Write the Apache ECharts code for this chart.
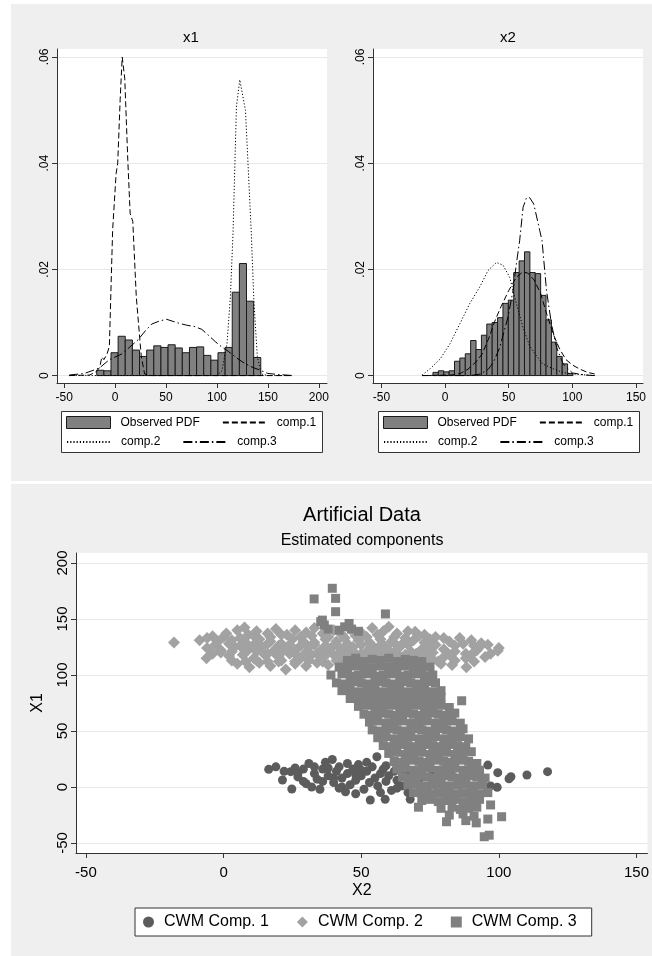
<!DOCTYPE html>
<html>
<head>
<meta charset="UTF-8">
<title>CWM components</title>
<script src="https://cdn.jsdelivr.net/npm/echarts@6/dist/echarts.min.js"></script>
<style>
  html, body { margin: 0; padding: 0; background: #fff; }
  #main { width: 652px; height: 956px; }
</style>
</head>
<body>
<div id="main"></div>
<script>
// ---- histogram x1 (bins of width 7) ----
var x1Bin = 7;
var x1Lo = [-18, -11, -4, 3, 10, 17, 24, 31, 38, 45, 52, 59, 66, 73, 80, 87, 94, 101, 108, 115, 122, 129, 136];
var x1Dens = [0.0010, 0.0009, 0.0043, 0.0074, 0.0067, 0.0048, 0.0036, 0.0048, 0.0056, 0.0053, 0.0058, 0.0052,
              0.0043, 0.0053, 0.0054, 0.0038, 0.0029, 0.0043, 0.0053, 0.0157, 0.0211, 0.0140, 0.0034];
var x1Comp1 = [[-45, 0], [-25, 0.0001], [-18, 0.0008], [-15, 0.0016], [-13, 0.0035], [-11, 0.0030], [-8, 0.0040],
               [-5.6, 0.0055], [-2.4, 0.0274], [1, 0.038], [2.6, 0.040], [5, 0.052], [7, 0.0600], [8, 0.0600],
               [9.5, 0.056], [12.5, 0.0405], [14.8, 0.0305], [17.4, 0.029], [20.8, 0.0149], [25.7, 0.0036],
               [29, 0.0003], [35, 0], [175, 0]];
var x1Comp2 = [[-45, 0], [100, 0], [101.8, 0.0001], [104.9, 0.0009], [109.9, 0.0061], [113.2, 0.0149],
               [115.8, 0.0270], [119.1, 0.0506], [122.4, 0.0557], [128, 0.0499], [133.7, 0.0268],
               [136.2, 0.0142], [139.6, 0.0036], [143.5, 0.0003], [150, 0], [175, 0]];
var x1Comp3 = [[-45, 0.0001], [-30, 0.0004], [-15.5, 0.0014], [-5.6, 0.0030], [5.9, 0.0040], [14, 0.0053],
               [22.4, 0.0067], [30, 0.0085], [36, 0.0097], [43.9, 0.0103], [50.5, 0.0106], [57, 0.0102],
               [63.7, 0.0098], [70, 0.0095], [78.5, 0.0092], [85.1, 0.0087], [91, 0.0077], [98.3, 0.0064],
               [104, 0.0055], [111.5, 0.0045], [118, 0.0035], [124.7, 0.0026], [133, 0.0017], [141.2, 0.0011],
               [150, 0.0004], [160, 0.0002], [175, 0]];

// ---- histogram x2 (bins of width 4.23) ----
var x2Bin = 4.23;
var x2Lo = [-9.5, -5.27, -1.04, 3.19, 7.42, 11.65, 15.88, 20.11, 24.34, 28.57, 32.8, 37.03, 41.26, 45.49,
            49.72, 53.95, 58.18, 62.41, 66.64, 70.87, 75.1, 79.33, 83.56, 87.79, 92.02, 96.25];
var x2Dens = [0.0006, 0.0009, 0.0007, 0.0009, 0.0027, 0.0033, 0.0041, 0.0066, 0.0049, 0.0076, 0.0097, 0.0100,
              0.0109, 0.0136, 0.0142, 0.0194, 0.0216, 0.0233, 0.0194, 0.0192, 0.0151, 0.0105, 0.0063, 0.0036,
              0.0022, 0.0004];
var x2Comp1 = [[-18, 0], [5, 0.0001], [12, 0.0004], [18, 0.0012], [24, 0.0025], [29, 0.0040], [34, 0.0068],
               [39, 0.0102], [44, 0.0130], [50, 0.0160], [56, 0.0185], [61, 0.0195], [65, 0.0193], [70, 0.0180],
               [75, 0.0155], [80, 0.0115], [85, 0.0078], [90, 0.0050], [95, 0.0030], [100, 0.0020],
               [106, 0.0012], [112, 0.0006], [117.5, 0.0003]];
var x2Comp2 = [[-18, 0.0001], [-11.7, 0.0013], [-3.9, 0.0031], [3.9, 0.0060], [11.7, 0.0098], [19.5, 0.0136],
               [27.3, 0.0167], [33.8, 0.0198], [40.4, 0.0213], [45.5, 0.0208], [50.8, 0.0185], [56, 0.0136],
               [61.2, 0.0091], [66.4, 0.0056], [71.6, 0.0038], [76.8, 0.0022], [84.6, 0.0013], [92.4, 0.0006],
               [100, 0.0003], [117.5, 0]];
var x2Comp3 = [[-18, 0], [20, 0], [28, 0.0003], [34, 0.0012], [38, 0.0025], [43, 0.0053], [49.4, 0.0110],
               [53.4, 0.0160], [56, 0.0210], [58.6, 0.0254], [61.3, 0.0317], [64, 0.0335], [66.5, 0.0335],
               [69.7, 0.0323], [74.4, 0.0273], [76.2, 0.0254], [79.7, 0.0160], [83.6, 0.0097], [87.6, 0.0053],
               [92.8, 0.0022], [100, 0.0005], [110, 0.0001], [117.5, 0]];

// ---- scatter: [X2, X1] ----
var cwm1 = [[16.4, 15.8], [19, 18], [21.4, 6.3], [24.4, 13.7], [24.8, -1.8], [27, 9], [29, 16], [31, 21], [30, 3],
            [33, 12], [34, 7], [36, 16], [35, -2], [37, 22], [38, 10], [39.5, 24.6], [40, 4], [41, 14], [42, 18],
            [43, 8], [44.3, -4.2], [45, 12], [46, 2], [47, 16], [48, 6], [49, 20], [50, 10], [51, -2], [52, 14],
            [53, 4], [53.3, -11.6], [54, 18], [55, 8], [55.7, 27], [56, 1], [57, 12], [58, 16], [58.7, -11], [59, 5],
            [60, 10], [61, -3], [62, 14], [63, 6], [64, 18], [65, 1], [66, 11], [67, -5], [67.8, -11], [68, 7],
            [70, 14], [71, 2], [72, 9], [74, -4], [76, 12], [78, 5], [80, -2], [83, 10], [85, 3], [88, 8], [90, -1],
            [92.6, 11], [94, 5], [96, 19.6], [97, 1], [99.6, 12.8], [99.4, -0.3], [103.7, 7.4], [104.4, 9.2],
            [110.2, 10.7], [117.7, 13.7], [32, 0], [38, 17], [43, 0], [50, 15], [45, 21], [27, 12], [40, 8],
            [48, 11], [36, 5], [33, 18], [29, 5], [22, 14], [26, 17], [59, 19], [63, -1], [52, 22], [48, -6],
            [42, -1], [57, -5], [62, 22]];
var cwm2 = [[1, 137], [-4, 134.6], [5, 140], [9, 136], [7.6, 142.4], [12, 139], [16, 137], [19, 141], [23, 136],
            [26, 140], [30, 138], [33, 142], [36, 137], [40, 140], [43, 136], [46, 141], [50, 138], [54, 142],
            [58, 139], [60, 143], [63, 137], [67, 139], [69.6, 138.7], [73, 136], [77, 134], [80, 133], [85.8, 133],
            [90, 131], [93.6, 128.3],
            [-18, 129], [-8.7, 131], [-2, 130], [3, 131], [8, 129], [13, 132], [17, 130], [21, 128], [25, 132],
            [29, 130], [33, 129], [37, 132], [41, 130], [45, 128], [49, 131], [53, 129], [57, 132], [61, 130],
            [65, 128], [69, 131], [73, 129], [77, 127], [82, 130], [87, 128], [91, 126], [96, 127], [100, 124],
            [99.6, 121.7],
            [-6, 124], [-1, 122], [4, 125], [9, 123], [14, 125], [18, 121], [22, 124], [26, 122], [31, 125],
            [35, 121], [39, 124], [43, 122], [47, 125], [52, 121], [56, 124], [60, 122], [64, 125], [68, 121],
            [72, 123], [76, 120], [80, 123], [84, 121], [88, 119], [92, 122], [97, 119], [95, 116],
            [-6.2, 114.9], [-4, 119], [2, 117], [7, 118], [11, 115], [15, 118], [20, 116], [24, 119], [28, 115],
            [32, 118], [36, 115], [40, 118], [44, 116], [48, 119], [52, 115], [56, 117], [60, 114], [64, 117],
            [68, 115], [72, 117], [76, 114], [80, 116], [84, 113], [88, 115], [91, 112], [88.2, 107],
            [5, 110], [9.4, 107], [13, 111], [17, 108], [20, 112], [22.6, 105], [26, 110], [30, 108], [34, 111],
            [38, 109], [42, 112], [46, 108], [50, 110], [54, 107], [58, 111], [62, 109], [66, 112], [70, 110],
            [74, 112], [79, 110], [83, 109],
            [-6, 133], [0, 134], [6, 133], [11, 135], [17, 134], [21, 136], [28, 134], [32, 135], [38, 134],
            [44, 133], [48, 135], [52, 134], [56, 136], [62, 134], [66, 133], [71, 135], [75, 132],
            [-3, 127], [2, 128], [6, 126], [11, 127], [16, 128], [20, 126], [24, 127], [28, 126], [33, 127],
            [37, 126], [41, 127], [45, 126], [50, 127], [54, 126], [58, 127], [63, 126], [67, 127], [75, 124],
            [84, 126], [93, 125],
            [-1, 120], [3, 121], [8, 120], [12, 121], [16, 119], [21, 120], [26, 119], [30, 120], [34, 119],
            [38, 120], [42, 119], [46, 120], [50, 119], [54, 120], [58, 119], [62, 120], [66, 118], [70, 119],
            [74, 118], [82, 118], [90, 118],
            [3, 113], [8, 112], [12, 113], [16, 112], [21, 113], [26, 112], [31, 113], [36, 112], [41, 113],
            [46, 114], [54, 112], [62, 113], [70, 113], [78, 112]];
var cwm3 = [[32.9, 167.9], [39.5, 177.4], [40.7, 168.4], [40.7, 156.5], [35.9, 149], [35.3, 147.6], [36.6, 144.6],
            [45.6, 146], [46.5, 141], [58.8, 154.5], [42, 140], [38, 141], [49, 139], [44, 143],
            [45, 113], [48, 115], [51, 112], [54, 114], [57, 113], [60, 115], [63, 112], [66, 114], [69, 113], [72, 112],
            [42, 107], [45, 106], [48, 108], [51, 107], [54, 106], [57, 108], [60, 107], [63, 106], [66, 108],
            [69, 107], [72, 106], [75, 107],
            [39, 100], [43, 101], [46, 99], [49, 100], [52, 101], [55, 99], [58, 100], [61, 101], [64, 99],
            [67, 100], [70, 101], [73, 99], [76, 100],
            [41, 93], [44, 92], [47, 94], [50, 93], [53, 92], [56, 94], [59, 93], [62, 92], [65, 94], [68, 93],
            [71, 92], [74, 94], [77, 93],
            [43, 86], [46, 87], [49, 85], [52, 86], [55, 87], [58, 85], [61, 86], [64, 87], [67, 85], [70, 86],
            [73, 87], [76, 85], [79, 86],
            [46, 79], [49, 78], [52, 80], [55, 79], [58, 78], [61, 80], [64, 79], [67, 78], [70, 80], [73, 79],
            [76, 78], [79, 80], [86.5, 77],
            [49, 72], [52, 73], [55, 71], [58, 72], [61, 73], [64, 71], [67, 72], [70, 73], [73, 71], [76, 72],
            [79, 73], [82, 71],
            [51, 65], [54, 64], [57, 66], [60, 65], [63, 64], [66, 66], [69, 65], [72, 64], [75, 66], [78, 65],
            [81, 64], [84, 66],
            [53, 58], [56, 59], [59, 57], [62, 58], [65, 59], [68, 57], [71, 58], [74, 59], [77, 57], [80, 58],
            [83, 59], [86, 57],
            [54, 51], [57, 50], [60, 52], [63, 51], [66, 50], [69, 52], [72, 51], [75, 50], [78, 52], [81, 51],
            [84, 50], [87, 52],
            [56, 44], [59, 45], [62, 43], [65, 44], [68, 45], [71, 43], [74, 44], [77, 45], [80, 43], [83, 44],
            [86, 45], [89, 43],
            [58, 37], [61, 36], [64, 38], [67, 37], [70, 36], [73, 38], [76, 37], [79, 36], [82, 38], [85, 37],
            [88, 36], [90, 31.5],
            [60, 30], [63, 31], [66, 29], [69, 30], [72, 31], [75, 29], [78, 30], [81, 31], [84, 29], [87, 30],
            [62, 23], [65, 22], [68, 24], [71, 23], [74, 22], [77, 24], [80, 23], [83, 22], [86, 24], [89, 23],
            [92, 21],
            [63, 16], [66, 17], [69, 15], [72, 16], [75, 17], [78, 15], [81, 16], [84, 17], [87, 15], [90, 16],
            [93, 15],
            [65, 9], [68, 8], [71, 10], [74, 9], [77, 8], [80, 10], [83, 9], [86, 8], [89, 10], [92, 9], [95, 8],
            [67, 2], [70, 3], [73, 1], [76, 2], [79, 3], [82, 1], [85, 2], [88, 3], [91, 1], [94, 2],
            [69, -5], [72, -4], [75, -6], [78, -5], [81, -4], [84, -6], [87, -5], [90, -4], [93, -6], [96, -5],
            [72, -12], [75, -11], [78, -13], [81, -12], [84, -11], [87, -13], [90, -12], [93, -11], [97, -16],
            [70.8, -18], [79, -19], [83, -18], [86, -20], [89, -19], [92, -18],
            [82, -25], [87, -24], [91, -26], [96, -28.6], [101, -26.5],
            [81, -31], [88, -30], [91.8, -32], [94.7, -44.4], [96.5, -43]];

function bins(lo, dens, w) {
  return lo.map(function (v, i) { return [v, v + w, dens[i]]; });
}
function renderBin(params, api) {
  var a = api.coord([api.value(0), 0]);
  var b = api.coord([api.value(1), api.value(2)]);
  return {
    type: 'rect',
    shape: { x: a[0], y: b[1], width: b[0] - a[0], height: a[1] - b[1] },
    style: { fill: '#808080', stroke: '#1a1a1a', lineWidth: 1 }
  };
}
function densLabel(v) {
  return v === 0 ? '0' : v.toFixed(2).replace(/^0/, '');
}

var font = "'Liberation Sans', Arial, sans-serif";
var axisLine = { onZero: false, lineStyle: { color: '#333', width: 1 } };
var tick = { length: 5, lineStyle: { color: '#333' } };
var grid = { lineStyle: { color: '#e8e8e8', width: 1 } };

function histX(idx, min, max, ticks) {
  return {
    type: 'value', gridIndex: idx, min: min, max: max,
    axisLine: axisLine, splitLine: { show: false },
    axisTick: Object.assign({ customValues: ticks }, tick),
    axisLabel: { customValues: ticks, fontSize: 12, color: '#000', margin: 9 }
  };
}
function histY(idx) {
  var t = [0, 0.02, 0.04, 0.06];
  return {
    type: 'value', gridIndex: idx, min: -0.0014, max: 0.0615,
    axisLine: Object.assign({ show: true }, axisLine), splitLine: Object.assign({ show: true }, grid),
    axisTick: Object.assign({ show: true, customValues: t }, tick),
    axisLabel: { customValues: t, fontSize: 12, color: '#000', rotate: 90, margin: 6, formatter: densLabel }
  };
}
function lineSeries(name, data, ix, type) {
  return {
    name: name, type: 'line', data: data, xAxisIndex: ix, yAxisIndex: ix,
    symbol: 'none', silent: true, z: 3,
    lineStyle: { color: '#000', width: 1, type: type },
    itemStyle: { color: '#000' }
  };
}
function histSeries(data, ix) {
  return {
    name: 'Observed PDF', type: 'custom', renderItem: renderBin, data: data,
    xAxisIndex: ix, yAxisIndex: ix, encode: { x: [0, 1], y: 2 },
    itemStyle: { color: '#808080', borderColor: '#1a1a1a', borderWidth: 1 }, z: 2
  };
}
// a legend row of the histogram keys (two keys per row, box drawn as graphic)
var noMark = { color: 'rgba(0,0,0,0)', borderWidth: 0 };
function keyRow(left, top, items) {
  return {
    left: left, top: top, padding: 0, itemGap: 22,
    itemWidth: 44, itemHeight: 12, selectedMode: false,
    textStyle: { fontSize: 12, color: '#000', padding: [0, 0, 0, 5] },
    data: items
  };
}
function keyRows(left) {
  return [
    keyRow(left, 416, [
      { name: 'Observed PDF', icon: 'rect', itemStyle: { color: '#808080', borderColor: '#1a1a1a', borderWidth: 1 } },
      { name: 'comp.1', itemStyle: noMark }
    ]),
    keyRow(left, 436, [
      { name: 'comp.2', itemStyle: noMark, textStyle: { padding: [0, 42, 0, 5] } },
      { name: 'comp.3', itemStyle: noMark }
    ])
  ];
}
function box(x) {
  return { type: 'rect', shape: { x: x + 0.5, y: 411.5, width: 261, height: 41 },
           style: { fill: '#fff', stroke: '#333', lineWidth: 1 }, z: -1 };
}

var dashA = [6, 3];
var dotA = [1.2, 2];
var dashDotA = [9, 3, 1.5, 3];

var chart = echarts.init(document.getElementById('main'));
chart.setOption({
  animation: false,
  backgroundColor: '#efefef',
  textStyle: { fontFamily: font },
  graphic: [
    { type: 'rect', shape: { x: 0, y: 0, width: 11, height: 956 }, style: { fill: '#fff' } },
    { type: 'rect', shape: { x: 0, y: 0, width: 652, height: 4 }, style: { fill: '#fff' } },
    { type: 'rect', shape: { x: 0, y: 481, width: 652, height: 3 }, style: { fill: '#fff' } },
    box(61), box(378),
    { type: 'text', x: 191, y: 38, style: { text: 'x1', font: '15px ' + font, fill: '#000', align: 'center', verticalAlign: 'middle' } },
    { type: 'text', x: 508, y: 38, style: { text: 'x2', font: '15px ' + font, fill: '#000', align: 'center', verticalAlign: 'middle' } },
    { type: 'text', x: 362, y: 515, style: { text: 'Artificial Data', font: '20px ' + font, fill: '#000', align: 'center', verticalAlign: 'middle' } },
    { type: 'text', x: 362, y: 541, style: { text: 'Estimated components', font: '16px ' + font, fill: '#000', align: 'center', verticalAlign: 'middle' } }
  ],
  grid: [
    { left: 57, top: 49, width: 270, height: 334, show: true, backgroundColor: '#fff', borderWidth: 0 },
    { left: 373, top: 49, width: 270, height: 334, show: true, backgroundColor: '#fff', borderWidth: 0 },
    { left: 76, top: 553, width: 574, height: 300, show: true, backgroundColor: '#fff', borderWidth: 0 }
  ],
  xAxis: [
    histX(0, -57, 208, [-50, 0, 50, 100, 150, 200]),
    histX(1, -56.6, 155.5, [-50, 0, 50, 100, 150]),
    {
      type: 'value', gridIndex: 2, min: -53.6, max: 154,
      name: 'X2', nameLocation: 'middle', nameGap: 30,
      nameTextStyle: { fontSize: 16, color: '#000' },
      axisLine: axisLine, splitLine: { show: false },
      axisTick: Object.assign({ customValues: [-50, 0, 50, 100, 150] }, tick),
      axisLabel: { customValues: [-50, 0, 50, 100, 150], fontSize: 15, color: '#000', margin: 12 }
    }
  ],
  yAxis: [
    histY(0),
    histY(1),
    {
      type: 'value', gridIndex: 2, min: -58.9, max: 208.9,
      name: 'X1', nameLocation: 'middle', nameGap: 30, nameRotate: 90,
      nameTextStyle: { fontSize: 16, color: '#000' },
      axisLine: Object.assign({ show: true }, axisLine), splitLine: Object.assign({ show: true }, grid),
      axisTick: Object.assign({ show: true, customValues: [-50, 0, 50, 100, 150, 200] }, tick),
      axisLabel: { customValues: [-50, 0, 50, 100, 150, 200], fontSize: 15, color: '#000', rotate: 90, margin: 6 }
    }
  ],
  legend: keyRows(66).concat(keyRows(383)).concat([
    {
      left: 135, top: 908, padding: [6, 15, 6, 8], itemGap: 28, itemWidth: 11, itemHeight: 11,
      selectedMode: false, backgroundColor: '#fff', borderColor: '#333', borderWidth: 1,
      textStyle: { fontSize: 16, color: '#000', padding: [0, 0, 0, 5] },
      data: [
        { name: 'CWM Comp. 1', icon: 'circle' },
        { name: 'CWM Comp. 2', icon: 'diamond' },
        { name: 'CWM Comp. 3', icon: 'rect' }
      ]
    }
  ]),
  series: [
    histSeries(bins(x1Lo, x1Dens, x1Bin), 0),
    lineSeries('comp.1', x1Comp1, 0, dashA),
    lineSeries('comp.2', x1Comp2, 0, dotA),
    lineSeries('comp.3', x1Comp3, 0, dashDotA),
    histSeries(bins(x2Lo, x2Dens, x2Bin), 1),
    lineSeries('comp.1', x2Comp1, 1, dashA),
    lineSeries('comp.2', x2Comp2, 1, dotA),
    lineSeries('comp.3', x2Comp3, 1, dashDotA),
    {
      name: 'CWM Comp. 1', type: 'scatter', xAxisIndex: 2, yAxisIndex: 2, data: cwm1,
      symbol: 'circle', symbolSize: 9, itemStyle: { color: '#5c5c5c', opacity: 1 }, silent: true
    },
    {
      name: 'CWM Comp. 2', type: 'scatter', xAxisIndex: 2, yAxisIndex: 2, data: cwm2,
      symbol: 'diamond', symbolSize: 12, itemStyle: { color: '#a2a2a2', opacity: 1 }, silent: true
    },
    {
      name: 'CWM Comp. 3', type: 'scatter', xAxisIndex: 2, yAxisIndex: 2, data: cwm3,
      symbol: 'rect', symbolSize: 9, itemStyle: { color: '#808080', opacity: 1 }, silent: true
    }
  ]
});
</script>
</body>
</html>
